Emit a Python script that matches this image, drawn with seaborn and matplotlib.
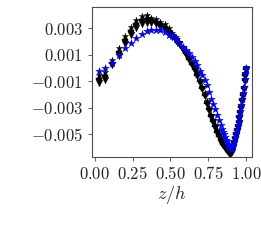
import numpy as np
import pandas as pd
import matplotlib
matplotlib.use("Agg")
import matplotlib.pyplot as plt
import seaborn as sns
from matplotlib.ticker import FuncFormatter

# -------------------------------
# data
# -------------------------------
z_h = [0.025, 0.066, 0.113, 0.160, 0.200, 0.238, 0.275, 0.310, 0.343, 0.374,
       0.404, 0.433, 0.461, 0.487, 0.512, 0.536, 0.559, 0.581, 0.602, 0.622,
       0.641, 0.660, 0.678, 0.695, 0.711, 0.727, 0.742, 0.756, 0.770, 0.783,
       0.796, 0.808, 0.820, 0.831, 0.842,
       0.848, 0.854, 0.860, 0.866, 0.872, 0.878, 0.884, 0.890, 0.896, 0.902,
       0.908, 0.914, 0.920, 0.926, 0.932, 0.938, 0.944, 0.950, 0.956, 0.962,
       0.968, 0.974, 0.980, 0.986, 0.992, 0.996, 1.000]

blue_vals = [-0.00025, 0.0000, 0.0004, 0.0010, 0.0015, 0.0019, 0.0023, 0.0026, 0.0028, 0.0029,
             0.0029, 0.00285, 0.0027, 0.0025, 0.0024, 0.0022, 0.0019, 0.0016, 0.0014, 0.0011,
             0.0008, 0.0005, 0.0002, -0.0002, -0.0005, -0.0009, -0.0013, -0.0018, -0.0023, -0.0027,
             -0.0031, -0.0035, -0.0039, -0.0043, -0.0046,
             -0.0048, -0.0050, -0.0052, -0.0054, -0.0055, -0.0057, -0.0058, -0.0059, -0.0060, -0.0061,
             -0.0060, -0.0058, -0.0055, -0.0052, -0.0049, -0.0046, -0.0043, -0.0040, -0.0036, -0.0032,
             -0.0028, -0.0023, -0.0019, -0.0014, -0.0008, -0.0004, 0.0000]

black_vals = [-0.0008, -0.0006, 0.0004, 0.0012, 0.0021, 0.0028, 0.0033, 0.0036, 0.0037, 0.0036,
              0.0035, 0.0033, 0.0031, 0.0028, 0.0025, 0.0022, 0.0019, 0.0015, 0.0011, 0.0007,
              0.0003, -0.0001, -0.0005, -0.0010, -0.0015, -0.0020, -0.0026, -0.0031, -0.0036, -0.0040,
              -0.0044, -0.0048, -0.0051, -0.0054, -0.0056,
              -0.0057, -0.0058, -0.0059, -0.0060, -0.0061, -0.0062, -0.0063, -0.0063, -0.0064, -0.0063,
              -0.0062, -0.0059, -0.0056, -0.0053, -0.0050, -0.0047, -0.0044, -0.0041, -0.0037, -0.0033,
              -0.0029, -0.0024, -0.0020, -0.0015, -0.0009, -0.0005, -0.0001]

# scatter between the black runs at each height
black_spread = [0.0003, 0.0003, 0.0002, 0.0003, 0.0003, 0.0003, 0.0003, 0.0003, 0.0003, 0.0002,
                0.0002, 0.0002, 0.0002, 0.0002, 0.00015, 0.00015, 0.0001, 0.0001, 0.0001, 0.0001,
                0.0001, 0.0001, 0.0001, 0.0001, 0.0001, 0.0001, 0.0001, 0.0001, 0.0001, 0.0001,
                0.0001, 0.0001, 0.0001, 0.0001, 0.0001,
                0.0001, 0.0001, 0.0001, 0.0001, 0.0001, 0.0001, 0.0001, 0.0001, 0.0001, 0.0001,
                0.0001, 0.0001, 0.0001, 0.0001, 0.0001, 0.0001, 0.0001, 0.0001, 0.0001, 0.0001,
                0.0001, 0.0001, 0.0001, 0.0001, 0.0001, 0.0001, 0.0000]

x_ticks = [0.00, 0.25, 0.50, 0.75, 1.00]
y_ticks = [-0.005, -0.003, -0.001, 0.001, 0.003]

black = np.array(black_vals)
spread = np.array(black_spread)
runs = {
    "upper": (black + spread, "*"),
    "mid": (black, "P"),
    "lower": (black - spread, "v"),
}

# -------------------------------
# plot
# -------------------------------
sns.set_style("ticks")
plt.rcParams["mathtext.fontset"] = "cm"
plt.rcParams["font.family"] = ["DejaVu Serif"]

fig = plt.figure(figsize=(2.61, 2.43), dpi=100)
ax = fig.add_axes([0.352, 0.354, 0.614, 0.617])

for name, (vals, mk) in runs.items():
    df = pd.DataFrame({"z": z_h, "v": vals})
    sns.scatterplot(data=df, x="z", y="v", ax=ax, color="black", marker=mk,
                    s=22, linewidth=0.3, edgecolor="black", zorder=2)

df_b = pd.DataFrame({"z": z_h, "v": blue_vals})
sns.scatterplot(data=df_b, x="z", y="v", ax=ax, color="blue", marker="*",
                s=32, linewidth=0.3, edgecolor="blue", zorder=3)

ax.set_xlim(-0.02, 1.04)
ax.set_ylim(-0.0067, 0.0046)
ax.set_xticks(x_ticks)
ax.set_yticks(y_ticks)
ax.xaxis.set_major_formatter(FuncFormatter(lambda v, p: r"$%.2f$" % v))
ax.yaxis.set_major_formatter(FuncFormatter(lambda v, p: r"$%.3f$" % v))
ax.tick_params(labelsize=12, length=3, color="0.4")
ax.set_xlabel(r"$z/h$", fontsize=13, labelpad=1)
ax.set_ylabel("")
for s in ax.spines.values():
    s.set_color("0.3")
    s.set_linewidth(0.8)

fig.savefig("out.png", dpi=100)
